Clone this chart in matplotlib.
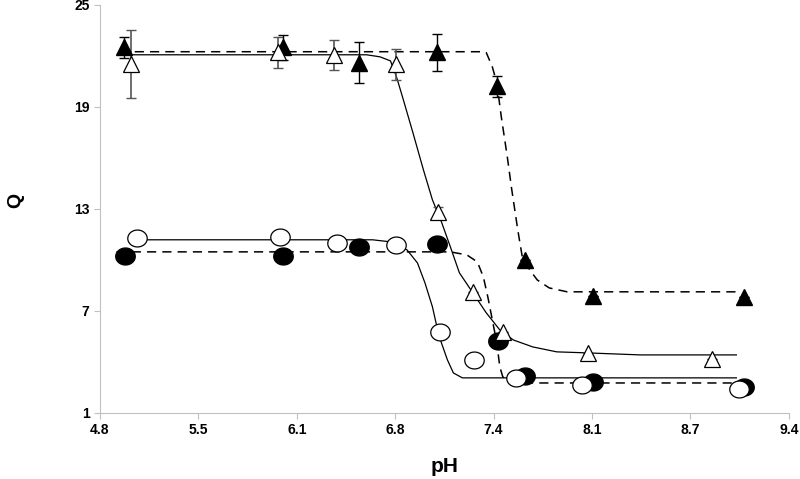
import numpy as np
import matplotlib
matplotlib.use("Agg")
import matplotlib.pyplot as plt
from matplotlib.path import Path

plt.rcParams['font.family'] = ['Liberation Sans', 'DejaVu Sans']

# filled triangles (dashed fit)
ph_ft = [4.96, 6.02, 6.53, 7.05, 7.45, 7.64, 8.09, 9.10]
q_ft = [22.5, 22.5, 21.6, 22.2, 20.2, 10.0, 7.9, 7.8]
err_ft = [0.6, 0.75, 1.2, 1.1, 0.6, 0, 0, 0]

# open triangles (solid fit)
ph_ot = [5.01, 5.99, 6.36, 6.78, 7.06, 7.29, 7.49, 8.06, 8.89]
q_ot = [21.5, 22.2, 22.05, 21.5, 12.8, 8.1, 5.76, 4.53, 4.18]
err_ot = [2.0, 0.9, 0.9, 0.9, 0.3, 0, 0, 0, 0]

# filled circles (dashed fit)
ph_fc = [4.97, 6.02, 6.53, 7.05, 7.46, 7.64, 8.09, 9.10]
q_fc = [10.24, 10.24, 10.76, 10.94, 5.24, 3.18, 2.82, 2.53]

# open circles (solid fit)
ph_oc = [5.05, 6.00, 6.38, 6.78, 7.07, 7.30, 7.58, 8.02, 9.07]
q_oc = [11.3, 11.35, 11.0, 10.88, 5.76, 4.12, 3.06, 2.65, 2.41]

# fitted curves
fit_ft_x = [4.93, 7.37, 7.38, 7.42, 7.45, 7.48, 7.52, 7.55, 7.59, 7.62, 7.67, 7.72, 7.80, 7.92, 9.05]
fit_ft_y = [22.24, 22.24, 22.18, 21.35, 20.41, 18.41, 16.06, 14.12, 11.76, 10.18, 9.41, 8.82, 8.35, 8.12, 8.12]

fit_ot_x = [5.00, 6.58, 6.67, 6.74, 6.78, 6.82, 6.89, 6.96, 7.02, 7.08, 7.14, 7.20, 7.29, 7.38, 7.47, 7.56, 7.69, 7.85, 8.05, 8.41, 9.05]
fit_ot_y = [22.06, 22.06, 21.94, 21.7, 20.76, 19.59, 17.47, 15.29, 13.53, 12.24, 10.76, 9.24, 8.06, 6.88, 5.88, 5.29, 4.88, 4.59, 4.53, 4.41, 4.41]

fit_fc_x = [4.91, 7.14, 7.25, 7.32, 7.36, 7.39, 7.42, 7.45, 7.47, 7.49, 7.54, 7.69, 9.05]
fit_fc_y = [10.47, 10.47, 10.29, 9.88, 9.0, 7.82, 6.47, 5.12, 3.71, 3.12, 2.82, 2.76, 2.76]

fit_oc_x = [5.05, 6.62, 6.74, 6.85, 6.92, 6.97, 7.02, 7.05, 7.08, 7.12, 7.16, 7.22, 7.34, 9.05]
fit_oc_y = [11.18, 11.18, 11.06, 10.59, 9.82, 8.65, 7.24, 6.06, 5.12, 4.12, 3.35, 3.06, 3.06, 3.06]

xticks = [4.8 + k * 4.6 / 7 for k in range(8)]
xtick_labels = ['4.8', '5.5', '6.1', '6.8', '7.4', '8.1', '8.7', '9.4']
yticks = [1, 7, 13, 19, 25]

# slightly wide ellipse marker
t = np.linspace(0, 2 * np.pi, 60)
ell = Path(np.column_stack([1.15 * np.cos(t), np.sin(t)]), closed=True)

fig = plt.figure(figsize=(8, 4.79), dpi=100)
ax = fig.add_axes([0.125, 0.138, 0.861, 0.852])

dash = (0, (6, 4))
ax.plot(fit_ft_x, fit_ft_y, color='black', lw=1.1, linestyle=dash, zorder=2)
ax.plot(fit_fc_x, fit_fc_y, color='black', lw=1.1, linestyle=dash, zorder=2)
ax.plot(fit_ot_x, fit_ot_y, color='black', lw=0.9, zorder=2)
ax.plot(fit_oc_x, fit_oc_y, color='black', lw=0.9, zorder=2)

ax.errorbar(ph_ot, q_ot, yerr=err_ot, fmt='none', ecolor='#555555', elinewidth=1.2,
            capsize=3.5, capthick=1.0, zorder=3)
ax.errorbar(ph_ft, q_ft, yerr=err_ft, fmt='none', ecolor='black', elinewidth=1.0,
            capsize=3.5, capthick=1.0, zorder=3)

ax.plot(ph_ft, q_ft, linestyle='none', marker='^', ms=12, mfc='black', mec='black', zorder=4)
ax.plot(ph_ot, q_ot, linestyle='none', marker='^', ms=12, mfc='white', mec='black', mew=0.9, zorder=5)
ax.plot(ph_fc, q_fc, linestyle='none', marker=ell, ms=14, mfc='black', mec='black', zorder=4)
ax.plot(ph_oc, q_oc, linestyle='none', marker=ell, ms=14, mfc='white', mec='black', mew=0.9, zorder=5)

ax.set_xlim(4.8, 9.4)
ax.set_ylim(1, 25)
ax.set_xticks(xticks)
ax.set_xticklabels(xtick_labels)
ax.set_yticks(yticks)
for s in ['top', 'right']:
    ax.spines[s].set_visible(False)
for s in ['left', 'bottom']:
    ax.spines[s].set_color('#c0c0c0')
ax.tick_params(colors='#c0c0c0', labelcolor='black', length=4, labelsize=10)
for lab in ax.get_xticklabels() + ax.get_yticklabels():
    lab.set_fontweight('bold')

ax.set_xlabel('pH', fontsize=15, fontweight='bold', labelpad=14)
ax.set_ylabel('Q', fontsize=14, fontweight='bold', labelpad=58)
ax.yaxis.set_label_coords(-0.11, 0.52)

fig.savefig('out.png', dpi=100)
